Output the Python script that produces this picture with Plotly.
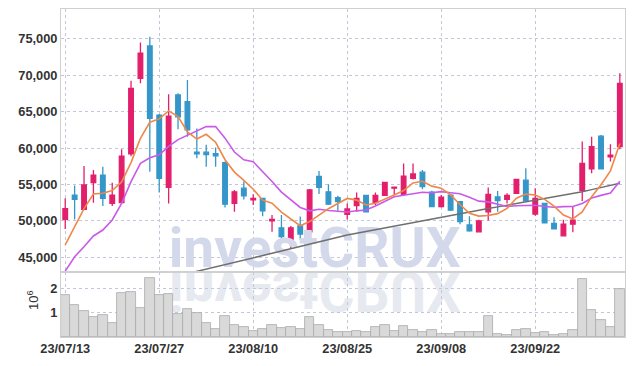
import base64
import plotly.graph_objects as go

dates = ["23/07/13", "23/07/14", "23/07/17", "23/07/18", "23/07/19", "23/07/20", "23/07/21",
         "23/07/24", "23/07/25", "23/07/26", "23/07/27", "23/07/28", "23/07/31",
         "23/08/01", "23/08/02", "23/08/03", "23/08/04", "23/08/07", "23/08/08", "23/08/09",
         "23/08/10", "23/08/11", "23/08/14", "23/08/16", "23/08/17", "23/08/18", "23/08/21",
         "23/08/22", "23/08/23", "23/08/24", "23/08/25", "23/08/28", "23/08/29", "23/08/30",
         "23/08/31", "23/09/01", "23/09/04", "23/09/05", "23/09/06", "23/09/07", "23/09/08",
         "23/09/11", "23/09/12", "23/09/13", "23/09/14", "23/09/15", "23/09/18", "23/09/19",
         "23/09/20", "23/09/21", "23/09/22", "23/09/25", "23/09/26", "23/09/27", "23/10/04",
         "23/10/05", "23/10/06", "23/10/10", "23/10/11", "23/10/12"]

opens = [50200, 53550, 51600, 55250, 56300, 52400, 52500, 59200, 69600, 74050,
         64550, 54600, 67300, 66400, 59450, 59450, 59250, 58000, 52400, 54500,
         52900, 53100, 50000, 49050, 47450, 49300, 48500, 56100, 54000, 53200,
         50900, 52100, 53500, 52500, 53500, 54500, 53650, 55850, 56700, 53950,
         51950, 53550, 52650, 49450, 48500, 51250, 53300, 52950, 53800, 55600,
         50950, 52400, 49650, 47950, 49550, 54150, 57150, 61650, 58800, 60200]
highs = [53100, 54850, 57550, 57000, 57450, 55250, 59850, 69250, 74500, 75300,
         64700, 67400, 67550, 69350, 62700, 60450, 60100, 58150, 54250, 55400,
         53650, 53200, 50800, 50800, 49300, 50600, 54400, 56850, 55050, 53450,
         52400, 53900, 53600, 53900, 55350, 54700, 57900, 57900, 57000, 54150,
         53550, 53700, 52750, 50650, 50150, 54600, 54100, 53800, 55800, 57250,
         54500, 52500, 50500, 50150, 52050, 60900, 61550, 61800, 60550, 70300]
lows = [48900, 50200, 51500, 52500, 52050, 52050, 52400, 58900, 68900, 56750,
        53900, 52400, 62600, 61550, 58600, 57450, 57450, 51850, 51250, 52950,
        52200, 50650, 48500, 47450, 46250, 47450, 48450, 53700, 52200, 51400,
        50200, 51250, 51200, 52200, 53450, 53550, 53600, 55700, 54350, 51900,
        51850, 51350, 49550, 48500, 48450, 50050, 51250, 52400, 53700, 52650,
        50700, 49700, 48850, 47900, 48450, 52750, 56550, 57100, 58150, 59850]
closes = [51700, 52950, 54950, 56300, 53100, 53550, 58900, 68200, 73050, 64100,
          55850, 64400, 64300, 62500, 59200, 59100, 58950, 52300, 54000, 53450,
          53100, 51400, 50200, 47850, 49050, 48200, 54250, 54600, 52300, 52650,
          51650, 53100, 51250, 53500, 55300, 54650, 56150, 56450, 54700, 51950,
          53250, 51500, 49900, 48650, 50000, 53650, 52800, 53500, 55700, 52750,
          53100, 49750, 48900, 49550, 50100, 57900, 60200, 57150, 59050, 68900]

ma_short = [46700, 49200, 51700, 53700, 53800, 54170, 55360, 58010, 61360, 63560,
            64020, 65120, 64340, 62230, 61250, 61900, 60810, 58410, 56710, 55560,
            54360, 52850, 52430, 51200, 50320, 49340, 49910, 50790, 51680, 52400,
            53090, 52860, 52190, 52430, 52960, 53560, 54170, 55210, 55450, 54780,
            54500, 53570, 52260, 51050, 50660, 50740, 51000, 51720, 53130, 53680,
            53570, 52960, 52040, 50810, 50280, 51240, 53330, 54980, 56880, 60640]
ma_mid = [43100, 45080, 46460, 47930, 48750, 50130, 52420, 55390, 57920, 58680,
          59095, 60240, 61175, 61795, 62405, 62960, 62965, 61375, 59470, 58405,
          58130, 56830, 55420, 53955, 52940, 51850, 51380, 51610, 51440, 51360,
          51215, 51385, 51490, 52055, 52680, 53325, 53515, 53700, 53940, 53870,
          54030, 53870, 53735, 53250, 52720, 52620, 52285, 51990, 52090, 52170,
          52155, 51980, 51880, 51970, 51980, 52405, 53145, 53510, 53845, 55460]
ma_long = [None, None, None, None, None, None, None, None, None, None,
           None, None, None, 42760, 43060, 43360, 43670, 43970, 44280, 44590,
           44900, 45230, 45550, 45870, 46180, 46510, 46830, 47140, 47470, 47790,
           48050, 48300, 48550, 48810, 49050, 49300, 49560, 49810, 50060, 50300,
           50540, 50770, 51010, 51240, 51470, 51710, 51930, 52160, 52390, 52630,
           52850, 53070, 53290, 53510, 53730, 54010, 54300, 54590, 54880, 55170]

volumes = [1750000, 1340000, 1090000, 820000, 930000, 590000, 1820000, 1890000, 1220000, 2440000,
           1740000, 1780000, 970000, 1160000, 1000000, 590000, 340000, 890000, 480000, 420000,
           230000, 340000, 480000, 380000, 420000, 340000, 830000, 480000, 310000, 220000,
           190000, 240000, 220000, 420000, 480000, 260000, 450000, 310000, 200000, 300000,
           130000, 130000, 220000, 220000, 220000, 890000, 130000, 90000, 300000, 340000,
           180000, 220000, 90000, 130000, 300000, 2400000, 1140000, 710000, 420000, 1990000]

price_ticks = [45000, 50000, 55000, 60000, 65000, 70000, 75000]
volume_ticks = [1000000, 2000000]
volume_ticktext = ["1", "2"]
watermark = "investCRUX"

idx = list(range(len(dates)))
label_idx = idx[::10]

RED = "#e31f6b"
BLUE = "#3597c9"
GRID = "#c3c7da"
FRAME = "#d0d0d0"
TICKFONT = dict(family="Liberation Sans, Arial, sans-serif", size=12.8, color="#333333", weight="bold")

# the page body has an 8px margin; the figure is sized to fit inside it
W, H = 618, 350
L, R, T, B = 53, 1, 1, 21
pw, ph = W - L - R, H - T - B
split = 65 / ph  # volume panel height


def px_x(x):
    return (x - L) / pw


def px_y(y):
    return (H - B - y) / ph


fig = go.Figure()

# watermark (real text, drawn beneath the price marks)
fig.add_trace(go.Scatter(
    x=[26.54], y=[45625], mode="text", text=[watermark], textposition="middle center",
    textfont=dict(family="Roboto", size=55, color="#d3d8ea", weight="bold"),
    hoverinfo="skip", showlegend=False, xaxis="x", yaxis="y"))

fig.add_trace(go.Candlestick(
    x=idx, open=opens, high=highs, low=lows, close=closes,
    increasing=dict(fillcolor=RED, line=dict(color=RED, width=1.3)),
    decreasing=dict(fillcolor=BLUE, line=dict(color=BLUE, width=1.3)),
    whiskerwidth=0, showlegend=False, xaxis="x", yaxis="y"))

fig.add_trace(go.Scatter(x=idx, y=ma_long, mode="lines", line=dict(color="#6f6f6f", width=1.5),
                         showlegend=False, hoverinfo="skip", xaxis="x", yaxis="y"))
fig.add_trace(go.Scatter(x=idx, y=ma_mid, mode="lines", line=dict(color="#c95ae8", width=1.6),
                         showlegend=False, hoverinfo="skip", xaxis="x", yaxis="y"))
fig.add_trace(go.Scatter(x=idx, y=ma_short, mode="lines", line=dict(color="#f0874a", width=1.6),
                         showlegend=False, hoverinfo="skip", xaxis="x", yaxis="y"))

fig.add_trace(go.Bar(x=idx, y=volumes, width=1,
                     marker=dict(color="#d9d9d9", line=dict(color="#a9a9a9", width=0.8)),
                     showlegend=False, xaxis="x2", yaxis="y2"))

# reflected watermark (mirror image of the text, as an SVG image below the traces)
svg = ('<svg xmlns="http://www.w3.org/2000/svg" width="310" height="50" viewBox="0 0 310 50">'
       '<text x="150" y="0" text-anchor="middle" transform="scale(1,-1)" font-family="Roboto" '
       'font-weight="bold" font-size="55" fill="#e7e9f1">' + watermark + '</text></svg>')
src = "data:image/svg+xml;base64," + base64.b64encode(svg.encode()).decode()

fig.add_layout_image(dict(source=src, xref="paper", yref="paper",
                          x=px_x(157), y=split, sizex=310 / pw, sizey=50 / ph,
                          xanchor="left", yanchor="top", sizing="stretch", layer="below"))

fig.add_annotation(text="10<sup>6</sup>", xref="paper", yref="paper",
                   x=px_x(25), y=px_y(292), xanchor="center", yanchor="middle",
                   textangle=-90, showarrow=False,
                   font=dict(family="Liberation Sans, Arial, sans-serif", size=13, color="#333333"))

common_x = dict(range=[-0.45, 59.55], tickmode="array", tickvals=label_idx,
                ticktext=[dates[i] for i in label_idx], showgrid=True, gridcolor=GRID,
                griddash="dot", gridwidth=1, zeroline=False, showline=True, linecolor=FRAME,
                linewidth=1, mirror=True, ticks="", tickfont=TICKFONT, automargin=False)

fig.update_layout(
    width=W, height=H, margin=dict(l=L, r=R, t=T, b=B, autoexpand=False),
    paper_bgcolor="white", plot_bgcolor="white", showlegend=False,
    xaxis=dict(common_x, domain=[0, 1], anchor="y", showticklabels=False,
               rangeslider=dict(visible=False)),
    xaxis2=dict(common_x, domain=[0, 1], anchor="y2", matches="x", showticklabels=True),
    yaxis=dict(domain=[split, 1], range=[42980, 79120], tickmode="array", tickvals=price_ticks,
               tickformat=",d", showgrid=True, gridcolor=GRID, griddash="dot", zeroline=False,
               showline=True, linecolor=FRAME, mirror=True, ticks="", tickfont=TICKFONT,
               automargin=False),
    yaxis2=dict(domain=[0, split], range=[0, 2700000], tickmode="array", tickvals=volume_ticks,
                ticktext=volume_ticktext, showgrid=True, gridcolor=GRID, griddash="dot",
                zeroline=False, showline=True, linecolor=FRAME, mirror=True, ticks="",
                tickfont=TICKFONT, automargin=False),
    bargap=0,
)

fig.write_html("out.html")
